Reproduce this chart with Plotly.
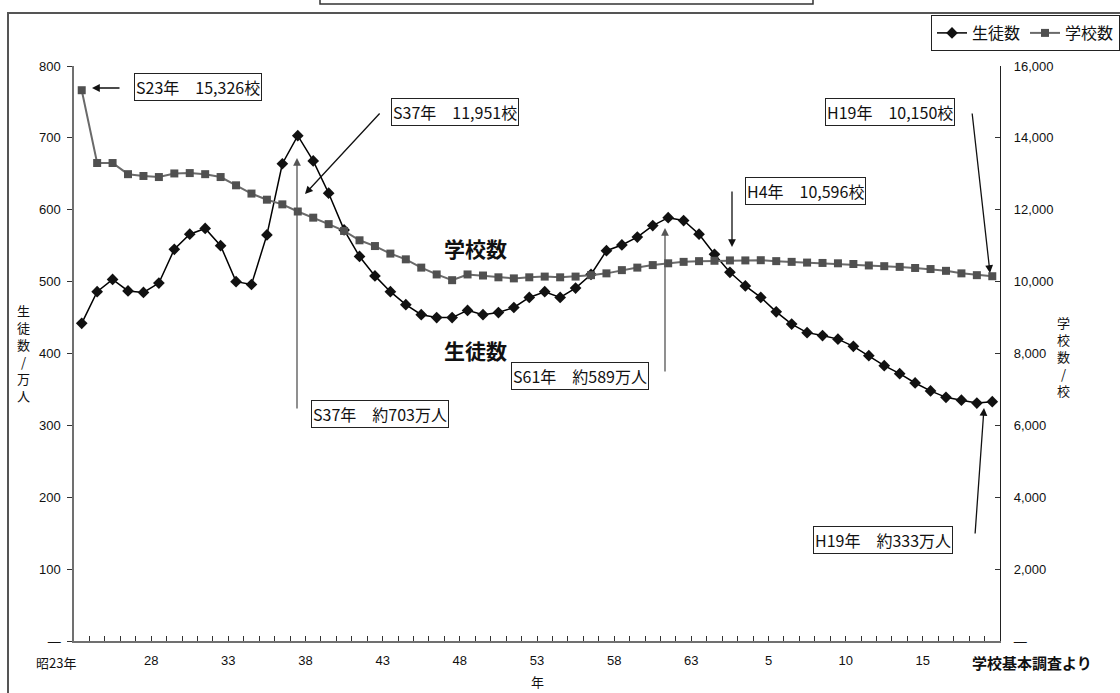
import plotly.graph_objects as go

# Survey years: Showa 23 (1948) through Heisei 19 (2007), one point per year
YEAR_INDEX = list(range(60))

# Students (10,000 persons)
STUDENTS = [442, 486, 503, 487, 485, 498, 545, 566, 574, 550,
            500, 496, 565, 664, 703, 668, 623, 572, 535, 508,
            486, 468, 454, 450, 450, 460, 454, 457, 464, 478,
            486, 478, 491, 510, 543, 551, 562, 578, 589, 585,
            566, 538, 513, 494, 478, 458, 441, 429, 425, 420,
            410, 397, 383, 372, 359, 348, 339, 335, 331, 333]

# Schools
SCHOOLS = [15326, 13300, 13300, 12990, 12940, 12910, 13010, 13020, 12990, 12910,
           12680, 12450, 12280, 12150, 11951, 11780, 11600, 11410, 11150, 10990,
           10780, 10620, 10390, 10200, 10040, 10200, 10170, 10120, 10090, 10120,
           10140, 10120, 10140, 10180, 10230, 10320, 10390, 10460, 10510, 10550,
           10570, 10580, 10590, 10590, 10596, 10570, 10550, 10530, 10520, 10510,
           10490, 10450, 10430, 10410, 10380, 10350, 10300, 10230, 10180, 10150]

# Year labels placed on the boundaries between yearly categories
X_LABEL_POS = [4.5, 9.5, 14.5, 19.5, 24.5, 29.5, 34.5, 39.5, 44.5, 49.5, 54.5]
X_LABEL_TEXT = ["28", "33", "38", "43", "48", "53", "58", "63", "5", "10", "15"]

Y_LEFT_TICKS = [0, 100, 200, 300, 400, 500, 600, 700, 800]
Y_LEFT_TEXT = ["—", "100", "200", "300", "400", "500", "600", "700", "800"]
Y_RIGHT_TICKS = [0, 2000, 4000, 6000, 8000, 10000, 12000, 14000, 16000]
Y_RIGHT_TEXT = ["—", "2,000", "4,000", "6,000", "8,000", "10,000", "12,000", "14,000", "16,000"]

W, H = 1120, 693
ML, MR, MT, MB = 74, 120, 66, 52
PW, PH = W - ML - MR, H - MT - MB

FONT = "Liberation Sans, Arial, Noto Sans CJK JP, sans-serif"
JFONT = "Noto Sans CJK JP, sans-serif"
SP = "\u3000"


def px(x):
    return (x - ML) / PW


def py(y):
    return (H - MB - y) / PH


def label(text, x, y, size=12, xanchor="center", family=JFONT, **kw):
    return dict(text=text, x=px(x), y=py(y), xref="paper", yref="paper",
                xanchor=xanchor, yanchor="middle", showarrow=False,
                font=dict(family=family, size=size, color="#111111"), **kw)


fig = go.Figure()
fig.add_trace(go.Scatter(
    x=YEAR_INDEX, y=STUDENTS, name="生徒数", mode="lines+markers",
    line=dict(color="#000000", width=1.5),
    marker=dict(symbol="diamond", size=9, color="#111111"),
    yaxis="y",
))
fig.add_trace(go.Scatter(
    x=YEAR_INDEX, y=SCHOOLS, name="学校数", mode="lines+markers",
    line=dict(color="#6a6a6a", width=2),
    marker=dict(symbol="square", size=8, color="#505050"),
    yaxis="y2",
))

boundaries = [i + 0.5 for i in range(59)]
tick_text = []
for b in boundaries:
    tick_text.append(X_LABEL_TEXT[X_LABEL_POS.index(b)] if b in X_LABEL_POS else "")

annotations = []

# Callout boxes
boxes = [
    ("S23年" + SP + "15,326校", 198, 87),
    ("S37年" + SP + "11,951校", 455, 112),
    ("H19年" + SP + "10,150校", 890, 112),
    ("H4年" + SP + "10,596校", 805, 191),
    ("S61年" + SP + "約589万人", 580, 376),
    ("S37年" + SP + "約703万人", 380, 414),
    ("H19年" + SP + "約333万人", 883, 540),
]
for text, cx, cy in boxes:
    annotations.append(label(text, cx, cy, size=16,
                             bordercolor="#222222", borderwidth=1, borderpad=1,
                             bgcolor="#ffffff"))

# Arrows: (tail x, tail y, head x, head y, colour)
arrows = [
    (121, 88, 92, 88, "#111111"),
    (381, 112, 305, 194, "#111111"),
    (972, 112, 990, 273, "#111111"),
    (732, 190, 732, 247, "#111111"),
    (665, 373, 665, 228, "#555555"),
    (297, 410, 297, 158, "#555555"),
    (975, 535, 984, 408, "#111111"),
]
for tx, ty, hx, hy, col in arrows:
    annotations.append(dict(
        text="", x=px(hx), y=py(hy), xref="paper", yref="paper",
        ax=tx - hx, ay=ty - hy, axref="pixel", ayref="pixel",
        showarrow=True, arrowhead=2, arrowsize=1.2, arrowwidth=1.3,
        arrowcolor=col, standoff=0,
    ))

# Series names inside the plot
annotations += [
    label("<b>学校数</b>", 475, 248, size=21),
    label("<b>生徒数</b>", 475, 350, size=21),
]

# Axis titles, first tick label, source note
annotations += [
    label("生<br>徒<br>数<br>/<br>万<br>人", 23, 353, size=13),
    label("学<br>校<br>数<br>/<br>校", 1063, 356, size=13),
    label("昭23年", 78, 662, size=13, xanchor="right"),
    label("年", 537, 682, size=13),
    label("<b>学校基本調査より</b>", 1032, 662, size=15),
]

shapes = [
    # outer frame
    dict(type="rect", xref="paper", yref="paper",
         x0=px(8), x1=px(1135), y0=py(705), y1=py(13),
         line=dict(color="#555555", width=2), fillcolor="rgba(0,0,0,0)", layer="below"),
    # heading box (top edge beyond the page)
    dict(type="rect", xref="paper", yref="paper",
         x0=px(320), x1=px(813), y0=py(4), y1=py(-10),
         line=dict(color="#333333", width=1.5), fillcolor="rgba(0,0,0,0)"),
]

TICKFONT = dict(family=FONT, size=13, color="#111111")

fig.update_layout(
    width=W, height=H,
    margin=dict(l=ML, r=MR, t=MT, b=MB, autoexpand=False),
    paper_bgcolor="#ffffff", plot_bgcolor="#ffffff",
    font=dict(family=FONT, size=13, color="#111111"),
    showlegend=True,
    legend=dict(
        orientation="h", x=px(931), y=py(15), xanchor="left", yanchor="top",
        bordercolor="#222222", borderwidth=1, bgcolor="#ffffff",
        font=dict(family=JFONT, size=16, color="#111111"),
        itemwidth=30, tracegroupgap=0,
    ),
    xaxis=dict(
        range=[-0.5, 59.5], showgrid=False, zeroline=False,
        showline=True, linecolor="#707070", linewidth=1.5,
        tickmode="array", tickvals=boundaries, ticktext=tick_text,
        ticks="inside", ticklen=5, tickcolor="#333333", tickwidth=1,
        tickfont=TICKFONT, ticklabelstandoff=7,
    ),
    yaxis=dict(
        range=[0, 800], showgrid=False, zeroline=False,
        showline=True, linecolor="#707070", linewidth=1.5,
        tickmode="array", tickvals=Y_LEFT_TICKS, ticktext=Y_LEFT_TEXT,
        ticks="outside", ticklen=5, tickcolor="#333333",
        tickfont=TICKFONT, ticklabelstandoff=4,
    ),
    yaxis2=dict(
        range=[0, 16000], overlaying="y", side="right", showgrid=False, zeroline=False,
        showline=True, linecolor="#222222", linewidth=1.2,
        tickmode="array", tickvals=Y_RIGHT_TICKS, ticktext=Y_RIGHT_TEXT,
        ticks="inside", ticklen=5, tickcolor="#333333",
        tickfont=TICKFONT, ticklabelstandoff=10,
    ),
    annotations=annotations,
    shapes=shapes,
)

fig.write_html("out.html")
